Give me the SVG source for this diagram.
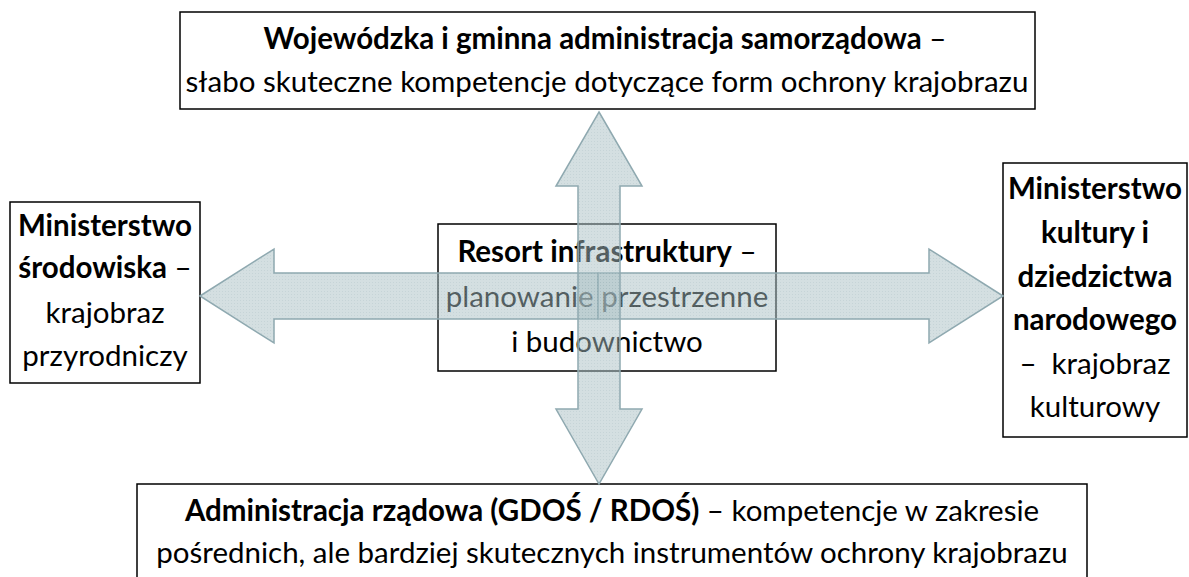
<svg xmlns="http://www.w3.org/2000/svg" width="1189" height="577" viewBox="0 0 1189 577">
<defs>
<pattern id="dots" width="3" height="3" patternUnits="userSpaceOnUse">
<rect width="3" height="3" fill="#a9c0c4"/>
<rect width="1" height="1" fill="#8eaab0"/>
</pattern>
<style>
.box{fill:#fff;stroke:#000;stroke-width:1.5}
.t{font-family:Lato,"Open Sans","Liberation Sans",sans-serif;font-size:29.5px;fill:#000;text-anchor:middle}
.b{font-weight:bold}
.arr{fill:url(#dots);fill-opacity:0.5;stroke:#8fa9b0;stroke-width:1.5;stroke-linejoin:miter}
</style>
</defs>
<rect width="1189" height="577" fill="#fff"/>
<g id="node-top">
<rect class="box" x="180" y="12" width="855" height="97"/>
<text class="t" x="605" y="49"><tspan class="b">Wojewódzka i gminna administracja samorządowa</tspan> –</text>
<text class="t" x="607" y="92">słabo skuteczne kompetencje dotyczące form ochrony krajobrazu</text>
</g>
<g id="node-left">
<rect class="box" x="10" y="202" width="190" height="181"/>
<text class="t b" x="105" y="236">Ministerstwo</text>
<text class="t" x="105" y="278"><tspan class="b">środowiska</tspan> –</text>
<text class="t" x="105" y="323">krajobraz</text>
<text class="t" x="105" y="366">przyrodniczy</text>
</g>
<g id="node-right">
<rect class="box" x="1003" y="163" width="184" height="274"/>
<text class="t b" x="1095" y="199">Ministerstwo</text>
<text class="t b" x="1095" y="243">kultury i</text>
<text class="t b" x="1095" y="287">dziedzictwa</text>
<text class="t b" x="1095" y="330">narodowego</text>
<text class="t" x="1095" y="374" xml:space="preserve">–  krajobraz</text>
<text class="t" x="1095" y="417">kulturowy</text>
</g>
<g id="node-center">
<rect class="box" x="438" y="224" width="338" height="147"/>
<text class="t" x="607" y="262"><tspan class="b">Resort infrastruktury</tspan> –</text>
<text class="t" x="607" y="307">planowanie przestrzenne</text>
<text class="t" x="607" y="352">i budownictwo</text>
</g>
<g id="node-bottom">
<path class="box" d="M137,580 V484 H1087 V580"/>
<text class="t" x="612" y="521"><tspan class="b">Administracja rządowa (GDOŚ / RDOŚ)</tspan> – kompetencje w zakresie</text>
<text class="t" x="612" y="563">pośrednich, ale bardziej skutecznych instrumentów ochrony krajobrazu</text>
</g>
<g id="connectors">
<polygon class="arr" points="200,296 274,249 274,273 598,273 598,319 274,319 274,343"/>
<polygon class="arr" points="1003,296 929,249 929,273 598,273 598,319 929,319 929,343"/>
<polygon class="arr" points="599,112 642,186 620,186 620,409 642,409 599,484 556,409 578,409 578,186 556,186"/>
</g>
</svg>
